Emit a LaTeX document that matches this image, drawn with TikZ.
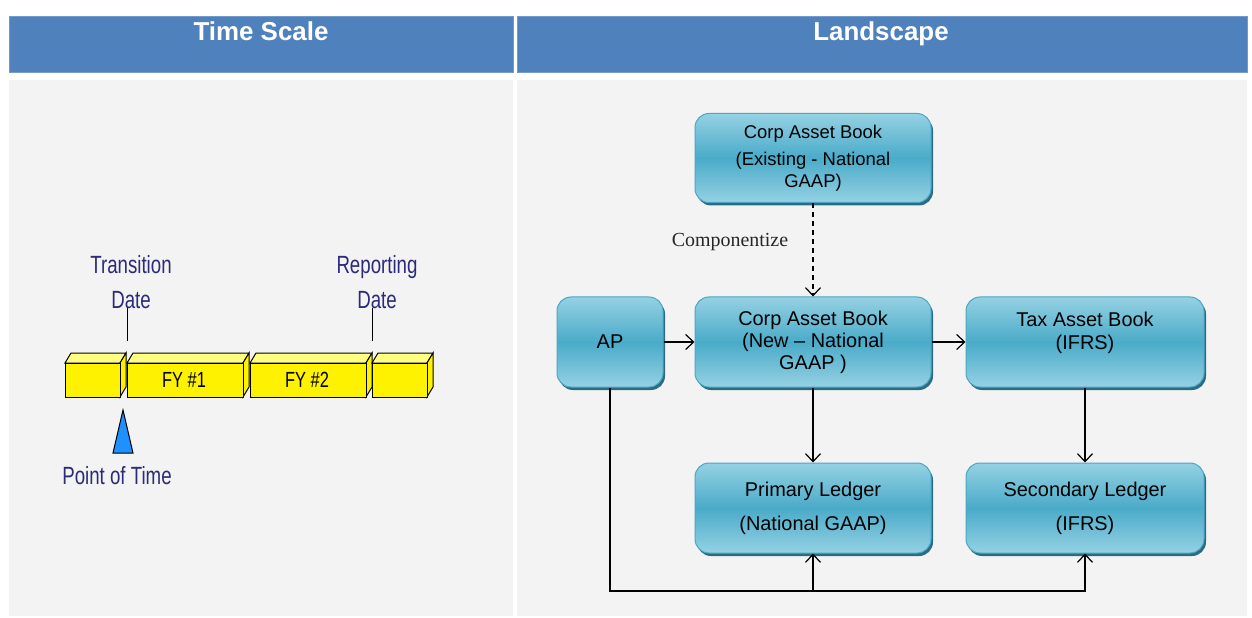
\documentclass[tikz,border=0pt]{standalone}
\usepackage{fontspec}
\setmainfont{Liberation Sans}
\newfontfamily\compfont{Liberation Serif}
\newfontfamily\tlfont[FakeStretch=0.75]{Liberation Sans}
\usetikzlibrary{arrows.meta,shadows}
\definecolor{headblue}{HTML}{4F81BD}
\definecolor{panelgrey}{HTML}{F3F3F3}
\definecolor{boxlight}{HTML}{95D1E3}
\definecolor{boxdark}{HTML}{4AABC9}
\definecolor{boxedge}{HTML}{4BA7C6}
\definecolor{boxshade}{HTML}{2C6C80}
\definecolor{tlnavy}{HTML}{2B2B7A}
\definecolor{ptblue}{HTML}{1E90FF}
\definecolor{blocktop}{HTML}{FFFF80}
\tikzset{
	book/.style={draw=boxedge,line width=1bp,rounded corners=14bp,top color=boxlight,bottom color=boxlight,middle color=boxdark,
		drop shadow={shadow xshift=2bp,shadow yshift=-3bp,fill=boxshade,opacity=1},align=center,inner sep=2bp,
		font=\fontsize{20}{22}\selectfont},
	arr/.style={-{Straight Barb[length=8bp,width=15bp]},line width=1.2bp},
	tltext/.style={text=tlnavy,font=\tlfont\fontsize{25}{35}\selectfont,align=center},
	head/.style={fill=headblue,draw=headblue!80!white},
	headtext/.style={text=white,anchor=base,font=\bfseries\fontsize{26}{30}\selectfont},
}
\begin{document}
\begin{tikzpicture}[x=1bp,y=-1bp]
	\useasboundingbox[fill=white] (0,0) rectangle (1252,618);
	\filldraw[head] (9,16) rectangle (513,72);
	\filldraw[head] (517,16) rectangle (1247,72);
	\fill[panelgrey] (9,80) rectangle (513,616);
	\fill[panelgrey] (517,80) rectangle (1247,616);
	\node[headtext] (tshead) at (261,41) {Time Scale};
	\node[headtext] (lshead) at (881,41) {Landscape};

	\foreach \a/\b in {65/120,127/243,250/366,372/427}{
		\filldraw[fill=blocktop,line width=1bp] (\a,363)--(\a+6,353)--(\b+6,353)--(\b,363)--cycle;
		\filldraw[fill=yellow,line width=1bp] (\b,363)--(\b+6,353)--(\b+6,387)--(\b,397)--cycle;
		\filldraw[fill=yellow,line width=1bp] (\a,363) rectangle (\b,397);
	}
	\draw(127,308)--(127,341);
	\draw(372,308)--(372,341);
	\node[tltext] (trans) at (131,282) {Transition\\Date};
	\node[tltext] (rep) at (377,282) {Reporting\\Date};
	\node[font=\tlfont\fontsize{22}{26}\selectfont] (fyone) at (184,380) {FY \#1};
	\node[font=\tlfont\fontsize{22}{26}\selectfont] (fytwo) at (307,380) {FY \#2};
	\filldraw[fill=ptblue,line width=1bp](113,453)--(133,453)--(123,410)--cycle;
	\node[tltext] (pot) at (117,476) {Point of Time};

	\node[book,minimum width=236bp,minimum height=89bp,font=\fontsize{18.5}{22}\selectfont] (oldbook) at (813,158) {Corp Asset Book\\[5bp](Existing - National\\GAAP)};
	\node[book,minimum width=106bp,minimum height=90bp] (ap) at (610,342) {AP};
	\node[book,minimum width=236bp,minimum height=90bp] (newbook) at (813,342) {Corp Asset Book\\(New – National\\GAAP )};
	\node[book,minimum width=238bp,minimum height=90bp,font=\fontsize{20}{23}\selectfont] (taxbook) at (1085,342) {Tax Asset Book\\(IFRS)\\\mbox{}};
	\node[book,minimum width=236bp,minimum height=90bp,font=\fontsize{20}{34}\selectfont] (prim) at (813,508) {Primary Ledger\\(National GAAP)};
	\node[book,minimum width=238bp,minimum height=90bp,font=\fontsize{20}{34}\selectfont] (sec) at (1085,508) {Secondary Ledger\\(IFRS)};
	\node[font=\compfont\fontsize{20}{24}\selectfont,text=black!85] (compo) at (730,242) {Componentize};

	\draw[arr,dash pattern=on 5bp off 4bp] (oldbook) -- (newbook);
	\draw[arr] (ap) -- (newbook);
	\draw[arr] (newbook) -- (taxbook);
	\draw[arr] (newbook) -- (prim);
	\draw[arr] (taxbook) -- (sec);
	\coordinate (junc) at (813,591);
	\draw[arr] (ap) |- (junc) -| (sec);
	\draw[arr] (junc) -- (prim);
\end{tikzpicture}
\end{document}
